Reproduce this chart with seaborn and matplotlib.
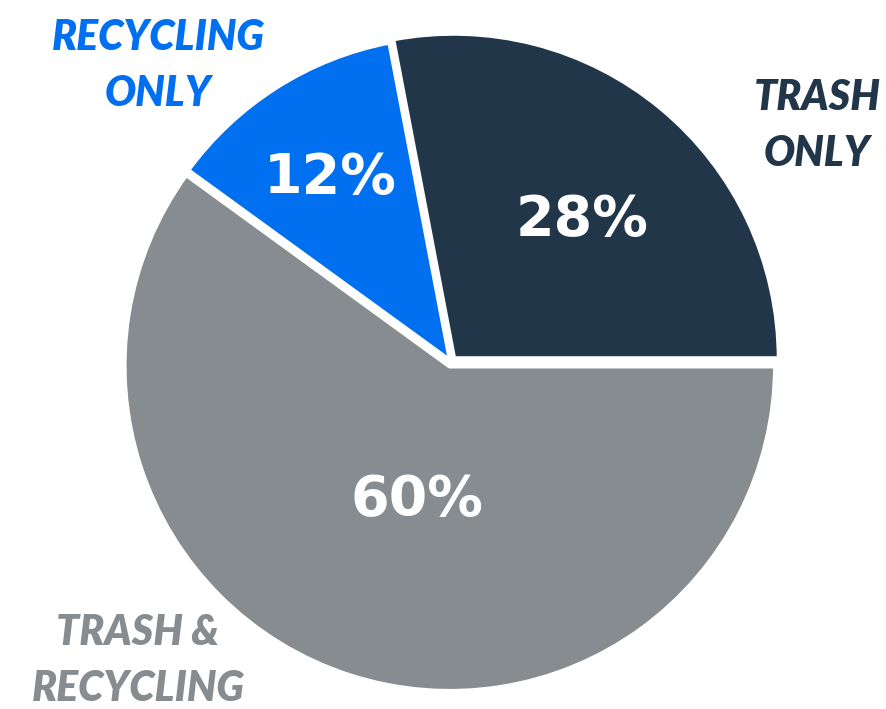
import matplotlib
matplotlib.use("Agg")
import matplotlib.pyplot as plt
import seaborn as sns

categories = ["TRASH\nONLY", "RECYCLING\nONLY", "TRASH &\nRECYCLING"]
values = [28, 12, 60]
pct_labels = ["28%", "12%", "60%"]
colors = ["#22364a", "#006ff0", "#868c8f"]

sns.set_theme(style="white")
plt.rcParams['font.family'] = ['Lato', 'DejaVu Sans']

fig = plt.figure(figsize=(8.86, 7.09), dpi=100)
W, H = 886, 709
cx, cy, R = 451, 362, 326
ax = fig.add_axes([(cx - R) / W, (H - cy - R) / H, 2 * R / W, 2 * R / H])

wedges, _ = ax.pie(values, colors=colors, startangle=0, counterclock=True,
                   explode=[0.012, 0.0, 0.012], radius=1.0,
                   wedgeprops=dict(edgecolor="white", linewidth=4))
ax.set_xlim(-1, 1)
ax.set_ylim(-1, 1)
ax.axis("off")

def d(px, py):
    return ((px - cx) / R, (cy - py) / R)

pct_pos = [d(582, 220), d(330, 178), d(417, 500)]
for (x, y), t in zip(pct_pos, pct_labels):
    ax.text(x, y, t, ha="center", va="center", color="white",
            fontsize=40, fontweight="bold", family="DejaVu Sans")

cat_pos = [d(817, 126), d(158, 66), d(138, 661)]
for (x, y), t, c in zip(cat_pos, categories, colors):
    ax.text(x, y, t, ha="center", va="center", color=c, fontsize=29.5,
            fontweight="heavy", fontstyle="italic", linespacing=1.55)

fig.savefig("out.png", dpi=100)
